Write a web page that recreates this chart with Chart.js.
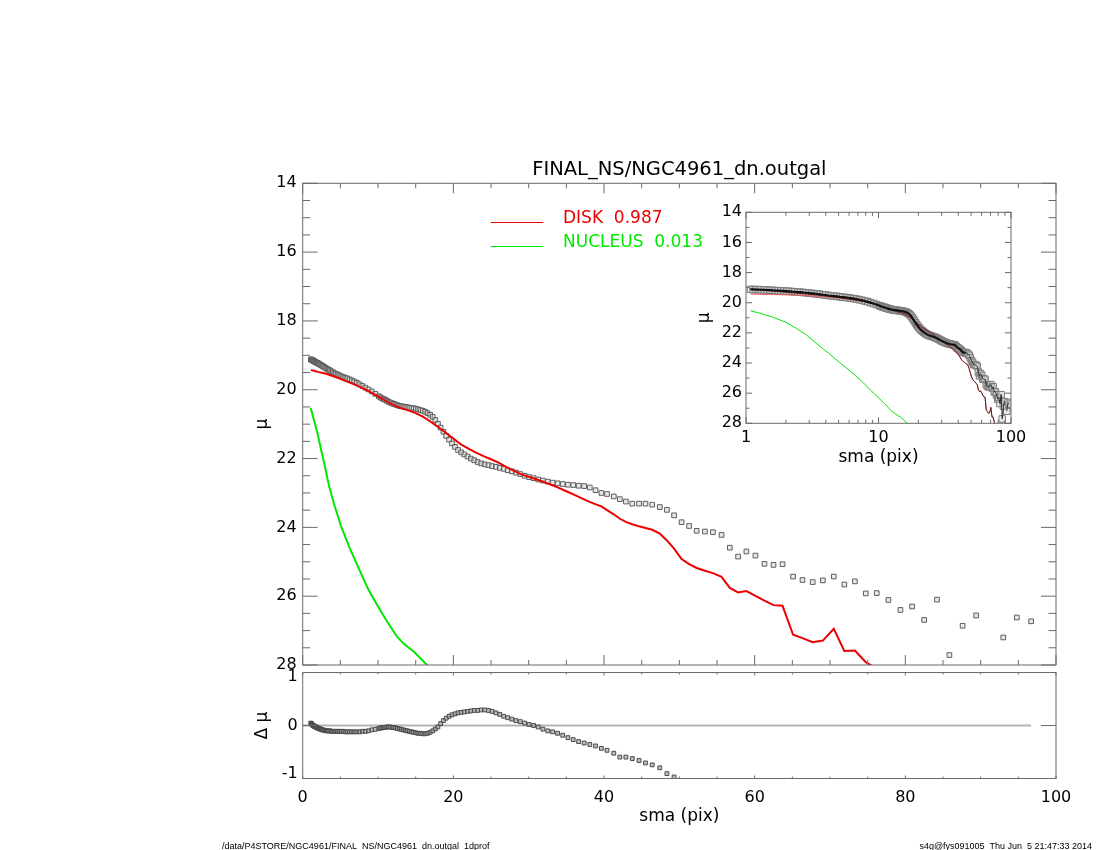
<!DOCTYPE html>
<html><head><meta charset="utf-8">
<script src="https://cdn.jsdelivr.net/npm/chart.js@4.4.0/dist/chart.umd.min.js"></script>
<style>
html,body{margin:0;padding:0;background:#fff;}
#wrap{position:relative;width:1100px;height:850px;overflow:hidden;background:#fff;}
canvas{position:absolute;left:0;top:0;}
.foot{position:absolute;font-family:'Liberation Sans',Arial,sans-serif;font-size:9px;line-height:10px;white-space:pre;color:#000;top:841px;}
</style></head>
<body><div id="wrap">
<canvas id="main" width="1100" height="850"></canvas>
<canvas id="resid" width="1100" height="850"></canvas>
<canvas id="inset" width="1100" height="850"></canvas>
<div class="foot" style="left:222px">/data/P4STORE/NGC4961/FINAL_NS/NGC4961_dn.outgal_1dprof</div>
<div class="foot" style="right:8px">s4g@fys091005  Thu Jun  5 21:47:33 2014</div>
</div>
<script>
// ---------------- data ----------------
const sma = [1.08,1.13,1.18,1.24,1.30,1.37,1.44,1.51,1.58,1.66,1.75,1.83,1.92,2.02,2.12,2.23,2.34,2.46,2.58,2.71,
2.84,2.99,3.14,3.29,3.46,3.63,3.81,4.00,4.20,4.41,4.63,4.86,5.11,5.36,5.63,5.91,6.21,6.52,6.84,7.18,
7.54,7.92,8.32,8.73,9.17,9.63,
10.11,10.31,10.52,10.73,10.94,11.16,11.39,11.61,11.85,12.08,12.32,12.57,12.82,13.08,13.34,13.61,13.88,14.16,14.44,14.73,
15.02,15.32,15.63,15.94,16.26,16.59,16.92,17.26,17.60,17.95,18.31,18.68,19.05,19.43,19.82,20.22,20.62,21.03,21.45,21.88,
22.32,22.77,23.22,23.69,24.16,24.65,25.14,25.64,26.16,26.68,27.21,27.76,28.31,28.88,29.46,30.05,30.65,31.26,31.89,32.53,
33.18,33.84,34.52,35.21,35.91,36.63,37.36,38.11,38.87,
39.65,40.4,41.3,42.1,42.9,43.75,44.65,45.5,46.4,47.4,48.35,49.3,50.3,51.3,52.3,53.4,54.45,55.6,56.7,57.8,
58.9,60.1,61.3,62.5,63.7,65.1,66.35,67.7,69.05,70.5,71.9,73.3,74.75,76.2,77.75,79.35,80.9,82.5,84.2,85.85,
87.6,89.4,91.2,93.0,94.8,96.7];

const muObs = [19.12,19.12,19.13,19.13,19.14,19.15,19.16,19.17,19.18,19.19,19.20,19.21,19.22,19.23,19.24,19.26,19.27,19.29,19.30,19.32,
19.34,19.36,19.38,19.40,19.42,19.44,19.47,19.49,19.52,19.54,19.56,19.58,19.61,19.63,19.65,19.67,19.70,19.73,19.76,19.80,
19.84,19.89,19.94,19.99,20.05,20.12,
20.19,20.22,20.25,20.27,20.29,20.32,20.35,20.37,20.39,20.41,20.43,20.45,20.47,20.48,20.49,20.50,20.51,20.52,20.53,20.54,
20.55,20.57,20.59,20.61,20.64,20.68,20.73,20.79,20.88,20.99,21.10,21.22,21.34,21.45,21.56,21.66,21.75,21.82,21.88,21.94,
22.00,22.05,22.10,22.14,22.17,22.19,22.22,22.24,22.27,22.30,22.34,22.37,22.41,22.45,22.50,22.54,22.57,22.61,22.64,22.67,
22.70,22.72,22.74,22.76,22.77,22.79,22.80,22.84,22.92,
23.00,23.03,23.10,23.18,23.25,23.31,23.31,23.31,23.34,23.41,23.49,23.65,23.85,23.96,24.10,24.12,24.14,24.22,24.59,24.85,
24.70,24.82,25.06,25.09,25.07,25.43,25.53,25.59,25.54,25.43,25.66,25.57,25.92,25.91,26.11,26.40,26.30,26.69,26.10,27.71,
26.86,26.56,null,27.20,26.62,26.73];

const dMu = [0.05,0.04,0.03,0.02,0.01,0.00,-0.01,-0.01,-0.02,-0.02,-0.03,-0.04,-0.05,-0.05,-0.06,-0.07,-0.07,-0.08,-0.09,-0.09,
-0.10,-0.10,-0.11,-0.11,-0.11,-0.11,-0.12,-0.12,-0.12,-0.12,-0.12,-0.12,-0.12,-0.12,-0.13,-0.13,-0.13,-0.13,-0.13,-0.13,
-0.13,-0.12,-0.12,-0.11,-0.09,-0.08,
-0.06,-0.05,-0.05,-0.04,-0.04,-0.03,-0.03,-0.03,-0.04,-0.04,-0.05,-0.06,-0.07,-0.08,-0.09,-0.10,-0.11,-0.12,-0.13,-0.14,
-0.15,-0.16,-0.16,-0.17,-0.17,-0.16,-0.14,-0.11,-0.07,-0.03,0.04,0.10,0.15,0.19,0.22,0.24,0.26,0.27,0.28,0.29,
0.30,0.31,0.31,0.32,0.32,0.31,0.29,0.26,0.23,0.19,0.16,0.13,0.10,0.08,0.05,0.02,0.00,-0.03,-0.075,-0.11,
-0.13,-0.16,-0.20,-0.25,-0.29,-0.33,-0.36,-0.39,-0.42,
-0.47,-0.51,-0.57,-0.65,-0.65,-0.68,-0.72,-0.77,-0.81,-0.87,-0.99,-1.06,null,null,null,null,null,null,null,null,
null,null,null,null,null,null,null,null,null,null,null,null,null,null,null,null,null,null,null,null,
null,null,null,null,null,null];

const diskSma = [1.08,1.5,2,3,4,5,6,7,8,9,10,11,12,13,14,15,16,17,18,19,20,21,22,23,24,25,26,27,28,29,30,31,32,33,34,35,36,37,38,39,
39.65,40.4,41.3,42.1,42.9,43.75,44.65,45.5,46.4,47.4,48.35,49.3,50.3,51.3,52.3,53.4,54.45,55.6,56.7,57.8,
58.9,60.1,61.3,62.5,63.7,65.1,66.35,67.7,69.05,70.5,71.9,73.3,74.75,76.2];
const diskMu = [19.43,19.45,19.48,19.53,19.60,19.68,19.77,19.86,19.96,20.07,20.19,20.32,20.44,20.53,20.60,20.68,20.79,20.93,21.09,21.25,
21.42,21.59,21.71,21.83,21.93,22.02,22.12,22.24,22.35,22.46,22.53,22.60,22.68,22.76,22.85,22.95,23.05,23.15,23.25,23.34,
23.39,23.50,23.62,23.75,23.84,23.91,23.97,24.02,24.07,24.18,24.38,24.62,24.92,25.07,25.18,25.26,25.33,25.44,25.76,25.89,
25.85,25.99,26.13,26.26,26.28,27.12,27.22,27.34,27.29,26.95,27.59,27.58,27.92,28.10];
const totalMu = [19.09,19.19,19.31,19.44,19.55,19.66,19.76,19.85,19.95,20.06,20.19,20.32,20.44,20.53,20.60,20.68,20.79,20.93,21.09,21.25,
21.42,21.59,21.71,21.83,21.93,22.02,22.12,22.24,22.35,22.46,22.53,22.60,22.68,22.76,22.85,22.95,23.05,23.15,23.25,23.34,
23.39,23.50,23.62,23.75,23.84,23.91,23.97,24.02,24.07,24.18,24.38,24.62,24.92,25.07,25.18,25.26,25.33,25.44,25.76,25.89,
25.85,25.99,26.13,26.26,26.28,27.12,27.22,27.34,27.29,26.95,27.59,27.58,27.92,28.10];

const nucSma = [1.08,1.3,1.61,2.0,2.4,2.87,3.5,4.2,5.12,6.2,7.5,8.7,10,11.1,12.5,13.5,14.7,15.6,16.5,17.0];
const nucMu = [20.53,20.72,20.97,21.3,21.7,22.15,22.8,23.35,23.98,24.58,25.22,25.8,26.3,26.7,27.17,27.4,27.6,27.8,28.0,28.12];

const zeroSma = [0, 96.7];
const zeroVal = [0, 0];

const legendNames = ['DISK  0.987', 'NUCLEUS  0.013'];

// tick values
const mainYTicks = [14,16,18,20,22,24,26,28];
const mainYMinor = [14.5,15,15.5,16.5,17,17.5,18.5,19,19.5,20.5,21,21.5,22.5,23,23.5,24.5,25,25.5,26.5,27,27.5];
const xTicks = [0,20,40,60,80,100];
const xMinor = [5,10,15,25,30,35,45,50,55,65,70,75,85,90,95];
const residYTicks = [-1,0,1];
const insetXTicks = [1,10,100];
const insetXMinor = [2,3,4,5,6,7,8,9,20,30,40,50,60,70,80,90];
const insetYTicks = [14,16,18,20,22,24,26,28];
const insetYMinor = [15,17,19,21,23,25,27];

// ---------------- styles ----------------
const FONT = 'DejaVu Sans';
const RED = 'rgb(236,0,0)';
const GREEN = 'rgb(0,232,0)';
const FRAME = '#6a6a6a';
Chart.defaults.font.family = FONT;
Chart.defaults.color = '#000';

const pts = (xs, ys) => xs.map((x, i) => ({x: x, y: ys[i]}));

const idlFrame = {
  id: 'idlFrame',
  afterDatasetsDraw(chart, args, o) {
    const {ctx, chartArea: a} = chart;
    const xs = chart.scales.x, ys = chart.scales.y;
    ctx.save();
    ctx.strokeStyle = FRAME;
    ctx.lineWidth = 1;
    ctx.strokeRect(a.left, a.top, a.right - a.left, a.bottom - a.top);
    ctx.beginPath();
    const xt = (vals, len) => (vals || []).forEach(v => {
      const p = xs.getPixelForValue(v);
      ctx.moveTo(p, a.bottom); ctx.lineTo(p, a.bottom - len);
      ctx.moveTo(p, a.top); ctx.lineTo(p, a.top + len);
    });
    const yt = (vals, len) => (vals || []).forEach(v => {
      const p = ys.getPixelForValue(v);
      ctx.moveTo(a.left, p); ctx.lineTo(a.left + len, p);
      ctx.moveTo(a.right, p); ctx.lineTo(a.right - len, p);
    });
    xt(o.xMajor, o.xMajorLen); xt(o.xMinor, o.xMinorLen);
    yt(o.yMajor, o.yMajorLen); yt(o.yMinor, o.yMinorLen);
    ctx.stroke();
    ctx.restore();
  }
};

const idlLegend = {
  id: 'idlLegend',
  afterDatasetsDraw(chart, args, o) {
    if (!o.items) return;
    const ctx = chart.ctx;
    ctx.save();
    ctx.font = o.fontSize + 'px "' + FONT + '"';
    ctx.textBaseline = 'alphabetic';
    ctx.textAlign = 'left';
    o.items.forEach(it => {
      ctx.strokeStyle = it.color; ctx.lineWidth = 1;
      ctx.beginPath(); ctx.moveTo(o.lineX0, it.y); ctx.lineTo(o.lineX1, it.y); ctx.stroke();
      ctx.fillStyle = it.color;
      ctx.fillText(it.text, o.textX, it.y);
    });
    ctx.restore();
  }
};

const noGrid = {display: false, drawTicks: false};
const noBorder = {display: false};
const tickFont = {family: FONT, size: 16};
const titleFont = {family: FONT, size: 17};
const setTicks = arr => (s => { s.ticks = arr.map(v => ({value: v})); });

// ---------------- main panel ----------------
new Chart(document.getElementById('main'), {
  type: 'scatter',
  data: {datasets: [
    {label: 'DISK', data: pts(diskSma, diskMu), showLine: true, borderColor: RED, borderWidth: 2, pointRadius: 0, order: 1},
    {label: 'NUCLEUS', data: pts(nucSma, nucMu), showLine: true, borderColor: GREEN, borderWidth: 2, pointRadius: 0, order: 2},
    {label: 'data', data: pts(sma, muObs), showLine: false, pointStyle: 'rect', pointRadius: 3.3, borderWidth: 1,
     borderColor: '#5e5e5e', backgroundColor: 'rgba(210,210,210,0.5)', order: 3}
  ]},
  options: {
    responsive: false, animation: false, events: [],
    layout: {padding: {left: 252.7, right: 44, top: 0, bottom: 185}},
    plugins: {
      legend: {display: false}, tooltip: {enabled: false},
      title: {display: true, text: 'FINAL_NS/NGC4961_dn.outgal', fullSize: false, color: '#000',
              font: {family: FONT, size: 19.5, weight: 'normal'}, padding: {top: 158, bottom: 1.9}},
      idlFrame: {xMajor: xTicks, xMinor: xMinor, xMajorLen: 10, xMinorLen: 5,
                 yMajor: mainYTicks, yMinor: mainYMinor, yMajorLen: 15, yMinorLen: 7.5},
      idlLegend: {items: [{text: legendNames[0], color: RED, y: 222.5}, {text: legendNames[1], color: GREEN, y: 246.5}],
                  lineX0: 490.7, lineX1: 543.3, textX: 563, fontSize: 17}
    },
    scales: {
      x: {type: 'linear', min: 0, max: 100, grid: noGrid, border: noBorder, ticks: {display: false},
          afterFit: s => { s.height = 0; }},
      y: {type: 'linear', reverse: true, min: 14, max: 28, grid: noGrid, border: noBorder,
          afterBuildTicks: setTicks(mainYTicks),
          ticks: {font: tickFont, color: '#000', padding: 6, autoSkip: false, callback: v => String(v)},
          title: {display: true, text: 'μ', font: titleFont, color: '#000', padding: {top: 0, bottom: 0}},
          afterFit: s => { s.width = 50; }}
    }
  },
  plugins: [idlFrame, idlLegend]
});

// ---------------- residual panel ----------------
new Chart(document.getElementById('resid'), {
  type: 'scatter',
  data: {datasets: [
    {label: 'residual', data: pts(sma, dMu), showLine: false, pointStyle: 'rect', pointRadius: 2.7, borderWidth: 1,
     borderColor: '#4a4a4a', backgroundColor: 'rgba(150,150,150,0.6)', order: 1},
    {label: 'zero', data: pts(zeroSma, zeroVal), showLine: true, borderColor: '#b4b4b4', borderWidth: 2, pointRadius: 0, order: 2}
  ]},
  options: {
    responsive: false, animation: false, events: [],
    layout: {padding: {left: 252.7, right: 44, top: 672.5, bottom: 21.5}},
    plugins: {
      legend: {display: false}, tooltip: {enabled: false},
      idlFrame: {xMajor: xTicks, xMinor: xMinor, xMajorLen: 3, xMinorLen: 2,
                 yMajor: [0], yMinor: [], yMajorLen: 15, yMinorLen: 0}
    },
    scales: {
      x: {type: 'linear', min: 0, max: 100, grid: noGrid, border: noBorder,
          afterBuildTicks: setTicks(xTicks),
          ticks: {font: tickFont, color: '#000', padding: 10, autoSkip: false, maxRotation: 0, callback: v => String(v)},
          title: {display: true, text: 'sma (pix)', font: titleFont, color: '#000', padding: {top: 0, bottom: 1.5}},
          afterFit: s => { s.height = 50; }},
      y: {type: 'linear', min: -1.09, max: 1.09, grid: noGrid, border: noBorder,
          afterBuildTicks: setTicks(residYTicks),
          ticks: {font: tickFont, color: '#000', padding: 5, autoSkip: false, callback: v => String(v)},
          title: {display: true, text: 'Δ μ', font: titleFont, color: '#000', padding: {top: 0, bottom: 0}},
          afterFit: s => { s.width = 50; }}
    }
  },
  plugins: [idlFrame]
});

// ---------------- inset (log sma) ----------------
new Chart(document.getElementById('inset'), {
  type: 'scatter',
  data: {datasets: [
    {label: 'NUCLEUS', data: pts(nucSma, nucMu), showLine: true, borderColor: GREEN, borderWidth: 1, pointRadius: 0, order: 1},
    {label: 'profile', data: pts(sma, muObs), showLine: true, borderColor: '#111', borderWidth: 2.2, pointRadius: 0, order: 2,
     segment: {borderWidth: c => (c.p0.parsed.x > 45 ? 0.8 : 2.2)}},
    {label: 'TOTAL', data: pts(diskSma, totalMu), showLine: true, borderColor: '#5a2222', borderWidth: 1, pointRadius: 0, order: 3},
    {label: 'DISK', data: pts(diskSma, diskMu), showLine: true, borderColor: 'rgb(240,90,90)', borderWidth: 1, pointRadius: 0, order: 4},
    {label: 'data', data: pts(sma, muObs), showLine: false, pointStyle: 'rect', pointRadius: 4.6, borderWidth: 1,
     borderColor: '#7a7a7a', backgroundColor: 'rgba(215,215,215,0.5)', order: 5}
  ]},
  options: {
    responsive: false, animation: false, events: [],
    layout: {padding: {left: 694, right: 89, top: 212.3, bottom: 376.7}},
    plugins: {
      legend: {display: false}, tooltip: {enabled: false},
      idlFrame: {xMajor: insetXTicks, xMinor: insetXMinor, xMajorLen: 6, xMinorLen: 3.5,
                 yMajor: insetYTicks, yMinor: insetYMinor, yMajorLen: 6, yMinorLen: 3.5}
    },
    scales: {
      x: {type: 'logarithmic', min: 1, max: 100, grid: noGrid, border: noBorder,
          afterBuildTicks: setTicks(insetXTicks),
          ticks: {font: tickFont, color: '#000', padding: 5, autoSkip: false, maxRotation: 0, callback: v => String(v)},
          title: {display: true, text: 'sma (pix)', font: titleFont, color: '#000', padding: {top: 0, bottom: 6}},
          afterFit: s => { s.height = 50; }},
      y: {type: 'linear', reverse: true, min: 14, max: 28, grid: noGrid, border: noBorder,
          afterBuildTicks: setTicks(insetYTicks),
          ticks: {font: tickFont, color: '#000', padding: 4, autoSkip: false, callback: v => String(v)},
          title: {display: true, text: 'μ', font: titleFont, color: '#000', padding: {top: 0, bottom: 0}},
          afterFit: s => { s.width = 52; }}
    }
  },
  plugins: [idlFrame]
});
</script>
</body></html>
